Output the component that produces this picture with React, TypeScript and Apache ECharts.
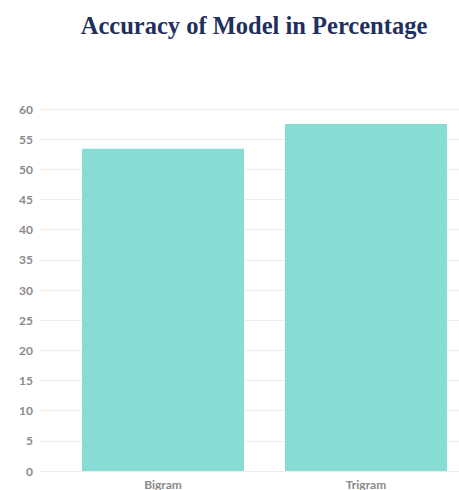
import React, { useEffect, useRef } from "react";
import * as echarts from "echarts";

const categories = ["Bigram", "Trigram"];
const accuracy = [53.4, 57.5];
const titleText = "Accuracy of Model in Percentage";

export default function App() {
  const ref = useRef<HTMLDivElement>(null);
  useEffect(() => {
    if (!ref.current) return;
    const chart = echarts.init(ref.current, null, { renderer: "svg" });
    const labelStyle = { color: "#8a8a8a", fontSize: 12, fontWeight: "bold" as const, fontFamily: "Lato, 'Open Sans', sans-serif" };
    chart.setOption({
      animation: false,
      backgroundColor: "#ffffff",
      title: {
        text: titleText,
        left: 249,
        textAlign: "center",
        top: 8,
        textStyle: { fontFamily: "'Liberation Serif', 'Times New Roman', serif", fontWeight: "bold", fontSize: 24.5, color: "#1f2f5e" },
      },
      grid: [
        { left: 40, right: 0, top: 109, bottom: 19 },
        { left: 163, right: 93, top: 109, bottom: 19 },
      ],
      xAxis: [
        { type: "value", gridIndex: 0, show: false, min: 0, max: 1 },
        {
          type: "category",
          gridIndex: 1,
          data: categories,
          boundaryGap: false,
          axisLine: { show: false },
          axisTick: { show: false },
          axisLabel: { ...labelStyle, margin: 7 },
          splitLine: { show: false },
        },
      ],
      yAxis: [
        {
          type: "value",
          gridIndex: 0,
          min: 0,
          max: 60,
          interval: 5,
          axisLine: { show: false },
          axisTick: { show: false },
          axisLabel: { ...labelStyle, margin: 7 },
          splitLine: { lineStyle: { color: "#eeeeee", width: 1 } },
        },
        { type: "value", gridIndex: 1, min: 0, max: 60, interval: 5, show: false, splitLine: { show: false } },
      ],
      series: [
        {
          type: "bar",
          xAxisIndex: 1,
          yAxisIndex: 1,
          data: accuracy,
          barWidth: 162,
          clip: false,
          itemStyle: { color: "#87ddd4" },
        },
      ],
    });
    return () => chart.dispose();
  }, []);
  return <div ref={ref} style={{ position: "fixed", left: 0, top: 0, width: 459, height: 490 }} />;
}
